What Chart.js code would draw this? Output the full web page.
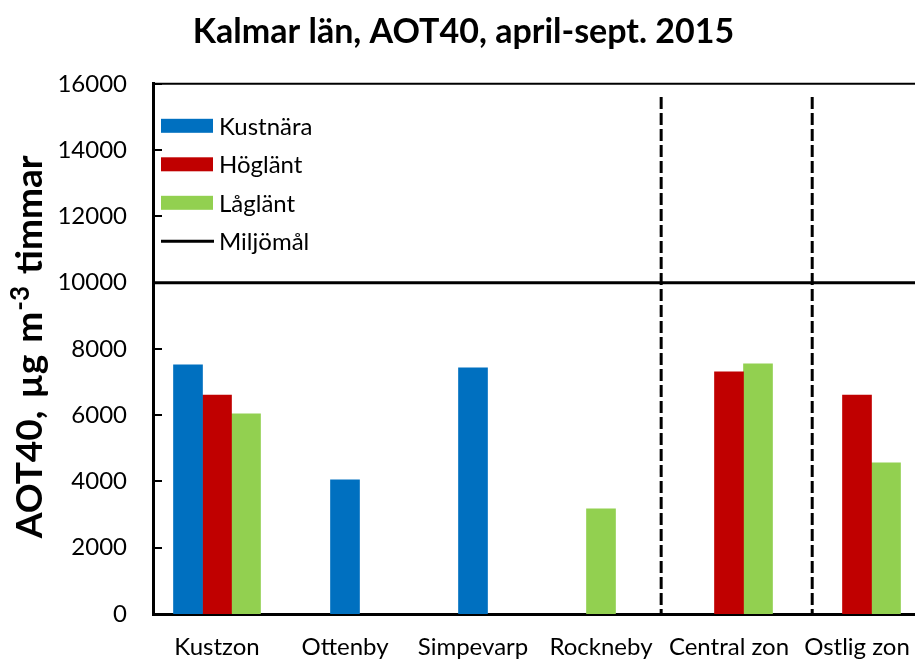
<!DOCTYPE html>
<html>
<head>
<meta charset="utf-8">
<script src="https://cdn.jsdelivr.net/npm/chart.js@4/dist/chart.umd.min.js"></script>
<style>
  html, body { margin: 0; padding: 0; overflow: hidden; background: #fff; }
  canvas { display: block; }
</style>
</head>
<body>
<canvas id="c" width="925" height="659"></canvas>
<script>
// Categories along the x axis
const categories = ['Kustzon', 'Ottenby', 'Simpevarp', 'Rockneby', 'Central zon', 'Ostlig zon'];

// Zone means per station class (AOT40, µg m-3 timmar)
const kustnara = [7520, null, null, null, null, null];
const hoglant  = [6610, null, null, null, 7310, 6610];
const laglant  = [6040, null, null, null, 7550, 4560];

// Single stations and the class each belongs to
const stationValues = [null, 4050, 7430, 3170, null, null];
const stationClass  = [null, 'Kustnära', 'Kustnära', 'Låglänt', null, null];

// Environmental target
const miljomal = 10000;

// Dashed zone separators, in category-index units, and their upper end
const zoneDividers = [3.47, 4.65];
const dividerTop = 15600;

// Value axis
const yMin = 0, yMax = 16000, yStep = 2000;

const colors = { 'Kustnära': '#0070C0', 'Höglänt': '#C00000', 'Låglänt': '#92D050' };
const FONT = 'Lato, "Open Sans", sans-serif';
const BAR_W = 29;

// Target line and zone separators, positioned through the chart scales
const referenceLines = {
  id: 'referenceLines',
  beforeDatasetsDraw(chart) {
    const { ctx, chartArea: a, scales: { x, y } } = chart;
    ctx.save();
    ctx.strokeStyle = '#000';
    ctx.lineWidth = 3;
    ctx.setLineDash([12, 4]);
    zoneDividers.forEach(d => {
      const px = x.getPixelForValue(d);
      ctx.beginPath();
      ctx.moveTo(px, y.getPixelForValue(dividerTop));
      ctx.lineTo(px, y.getPixelForValue(yMin));
      ctx.stroke();
    });
    ctx.setLineDash([]);
    const py = y.getPixelForValue(miljomal);
    ctx.beginPath();
    ctx.moveTo(a.left, py);
    ctx.lineTo(a.right, py);
    ctx.stroke();
    ctx.restore();
  }
};

// Plot frame top edge and inward tick marks on the value axis
const framePlugin = {
  id: 'frame',
  afterDraw(chart) {
    const { ctx, chartArea: a, scales } = chart;
    ctx.save();
    ctx.strokeStyle = '#000';
    ctx.lineWidth = 2;
    ctx.beginPath();
    ctx.moveTo(a.left, a.top);
    ctx.lineTo(a.right, a.top);
    ctx.stroke();
    const y = scales.y;
    y.ticks.forEach(t => {
      const py = Math.round(y.getPixelForValue(t.value));
      ctx.beginPath();
      ctx.moveTo(a.left, py);
      ctx.lineTo(a.left + 9, py);
      ctx.stroke();
    });
    ctx.restore();
  }
};

// Value axis title with a raised exponent
const yTitle = {
  id: 'yTitle',
  afterDraw(chart) {
    const { ctx, chartArea: a } = chart;
    const parts = [
      { t: 'AOT40,', size: 37, rise: 0, gap: 3 },
      { t: ' µg', size: 37, rise: 0, gap: 3 },
      { t: ' m', size: 37, rise: 0, gap: 1 },
      { t: '-3', size: 26, rise: 13, gap: 3 },
      { t: ' timmar', size: 37, rise: 0, gap: 0 }
    ];
    ctx.save();
    ctx.fillStyle = '#000';
    ctx.textBaseline = 'alphabetic';
    let total = 0;
    parts.forEach(p => {
      ctx.font = 'bold ' + p.size + 'px ' + FONT;
      p.w = ctx.measureText(p.t).width;
      total += p.w + p.gap;
    });
    ctx.translate(42, (a.top + a.bottom) / 2 - 2);
    ctx.rotate(-Math.PI / 2);
    let cx = -total / 2;
    parts.forEach(p => {
      ctx.font = 'bold ' + p.size + 'px ' + FONT;
      ctx.fillText(p.t, cx, -p.rise);
      cx += p.w + p.gap;
    });
    ctx.restore();
  }
};

// Legend inside the plot area, top-left: the three class series and the target line
const insideLegend = {
  id: 'insideLegend',
  afterDraw(chart) {
    const { ctx, chartArea: a } = chart;
    const items = chart.data.datasets
      .filter(d => d.inLegend)
      .map(d => ({ label: d.label, color: d.backgroundColor, line: false }))
      .concat([{ label: 'Miljömål', color: '#000', line: true }]);
    ctx.save();
    ctx.font = '24px ' + FONT;
    ctx.textBaseline = 'middle';
    const x0 = a.left + 8, w = 52, h = 14;
    items.forEach((it, i) => {
      const cy = a.top + 42 + i * 38.5;
      if (it.line) {
        ctx.strokeStyle = it.color;
        ctx.lineWidth = 3;
        ctx.beginPath();
        ctx.moveTo(x0, cy);
        ctx.lineTo(x0 + w + 1, cy);
        ctx.stroke();
      } else {
        ctx.fillStyle = it.color;
        ctx.fillRect(x0, cy - h / 2, w, h);
      }
      ctx.fillStyle = '#000';
      ctx.fillText(it.label, x0 + w + 6, cy + 1);
    });
    ctx.restore();
  }
};

const datasets = [
  { label: 'Kustnära', inLegend: true, data: kustnara, backgroundColor: colors['Kustnära'], barThickness: BAR_W },
  { label: 'Höglänt',  inLegend: true, data: hoglant,  backgroundColor: colors['Höglänt'],  barThickness: BAR_W },
  { label: 'Låglänt',  inLegend: true, data: laglant,  backgroundColor: colors['Låglänt'],  barThickness: BAR_W },
  {
    // single stations sit centred in their own category
    label: 'Stationer', grouped: false, data: stationValues,
    backgroundColor: stationClass.map(c => c ? colors[c] : 'rgba(0,0,0,0)'), barThickness: BAR_W
  }
];

new Chart(document.getElementById('c'), {
  type: 'bar',
  data: { labels: categories, datasets },
  options: {
    responsive: false,
    animation: false,
    layout: { padding: { left: 6, right: 4, top: 0, bottom: 0 } },
    plugins: {
      legend: { display: false },
      tooltip: { enabled: false },
      title: {
        display: true,
        text: 'Kalmar län, AOT40, april-sept. 2015',
        color: '#000',
        font: { family: FONT, size: 34, weight: 'bold', lineHeight: 1.2 },
        padding: { top: 12, bottom: 31 }
      }
    },
    scales: {
      x: {
        type: 'category', offset: true, z: 1,
        grid: { display: false, drawTicks: false },
        border: { display: true, color: '#000', width: 3 },
        ticks: { color: '#000', font: { family: FONT, size: 24, lineHeight: 2.75 }, padding: 0, maxRotation: 0, autoSkip: false },
        afterFit(s) { s.height = 45; }
      },
      y: {
        min: yMin, max: yMax, z: 1,
        grid: { display: false, drawTicks: false },
        border: { display: true, color: '#000', width: 3 },
        ticks: {
          stepSize: yStep, color: '#000', padding: 26,
          font: { family: FONT, size: 24 },
          callback: v => String(v)
        },
        afterFit(s) { s.width = 147; }
      }
    }
  },
  plugins: [referenceLines, framePlugin, yTitle, insideLegend]
});
</script>
</body>
</html>
